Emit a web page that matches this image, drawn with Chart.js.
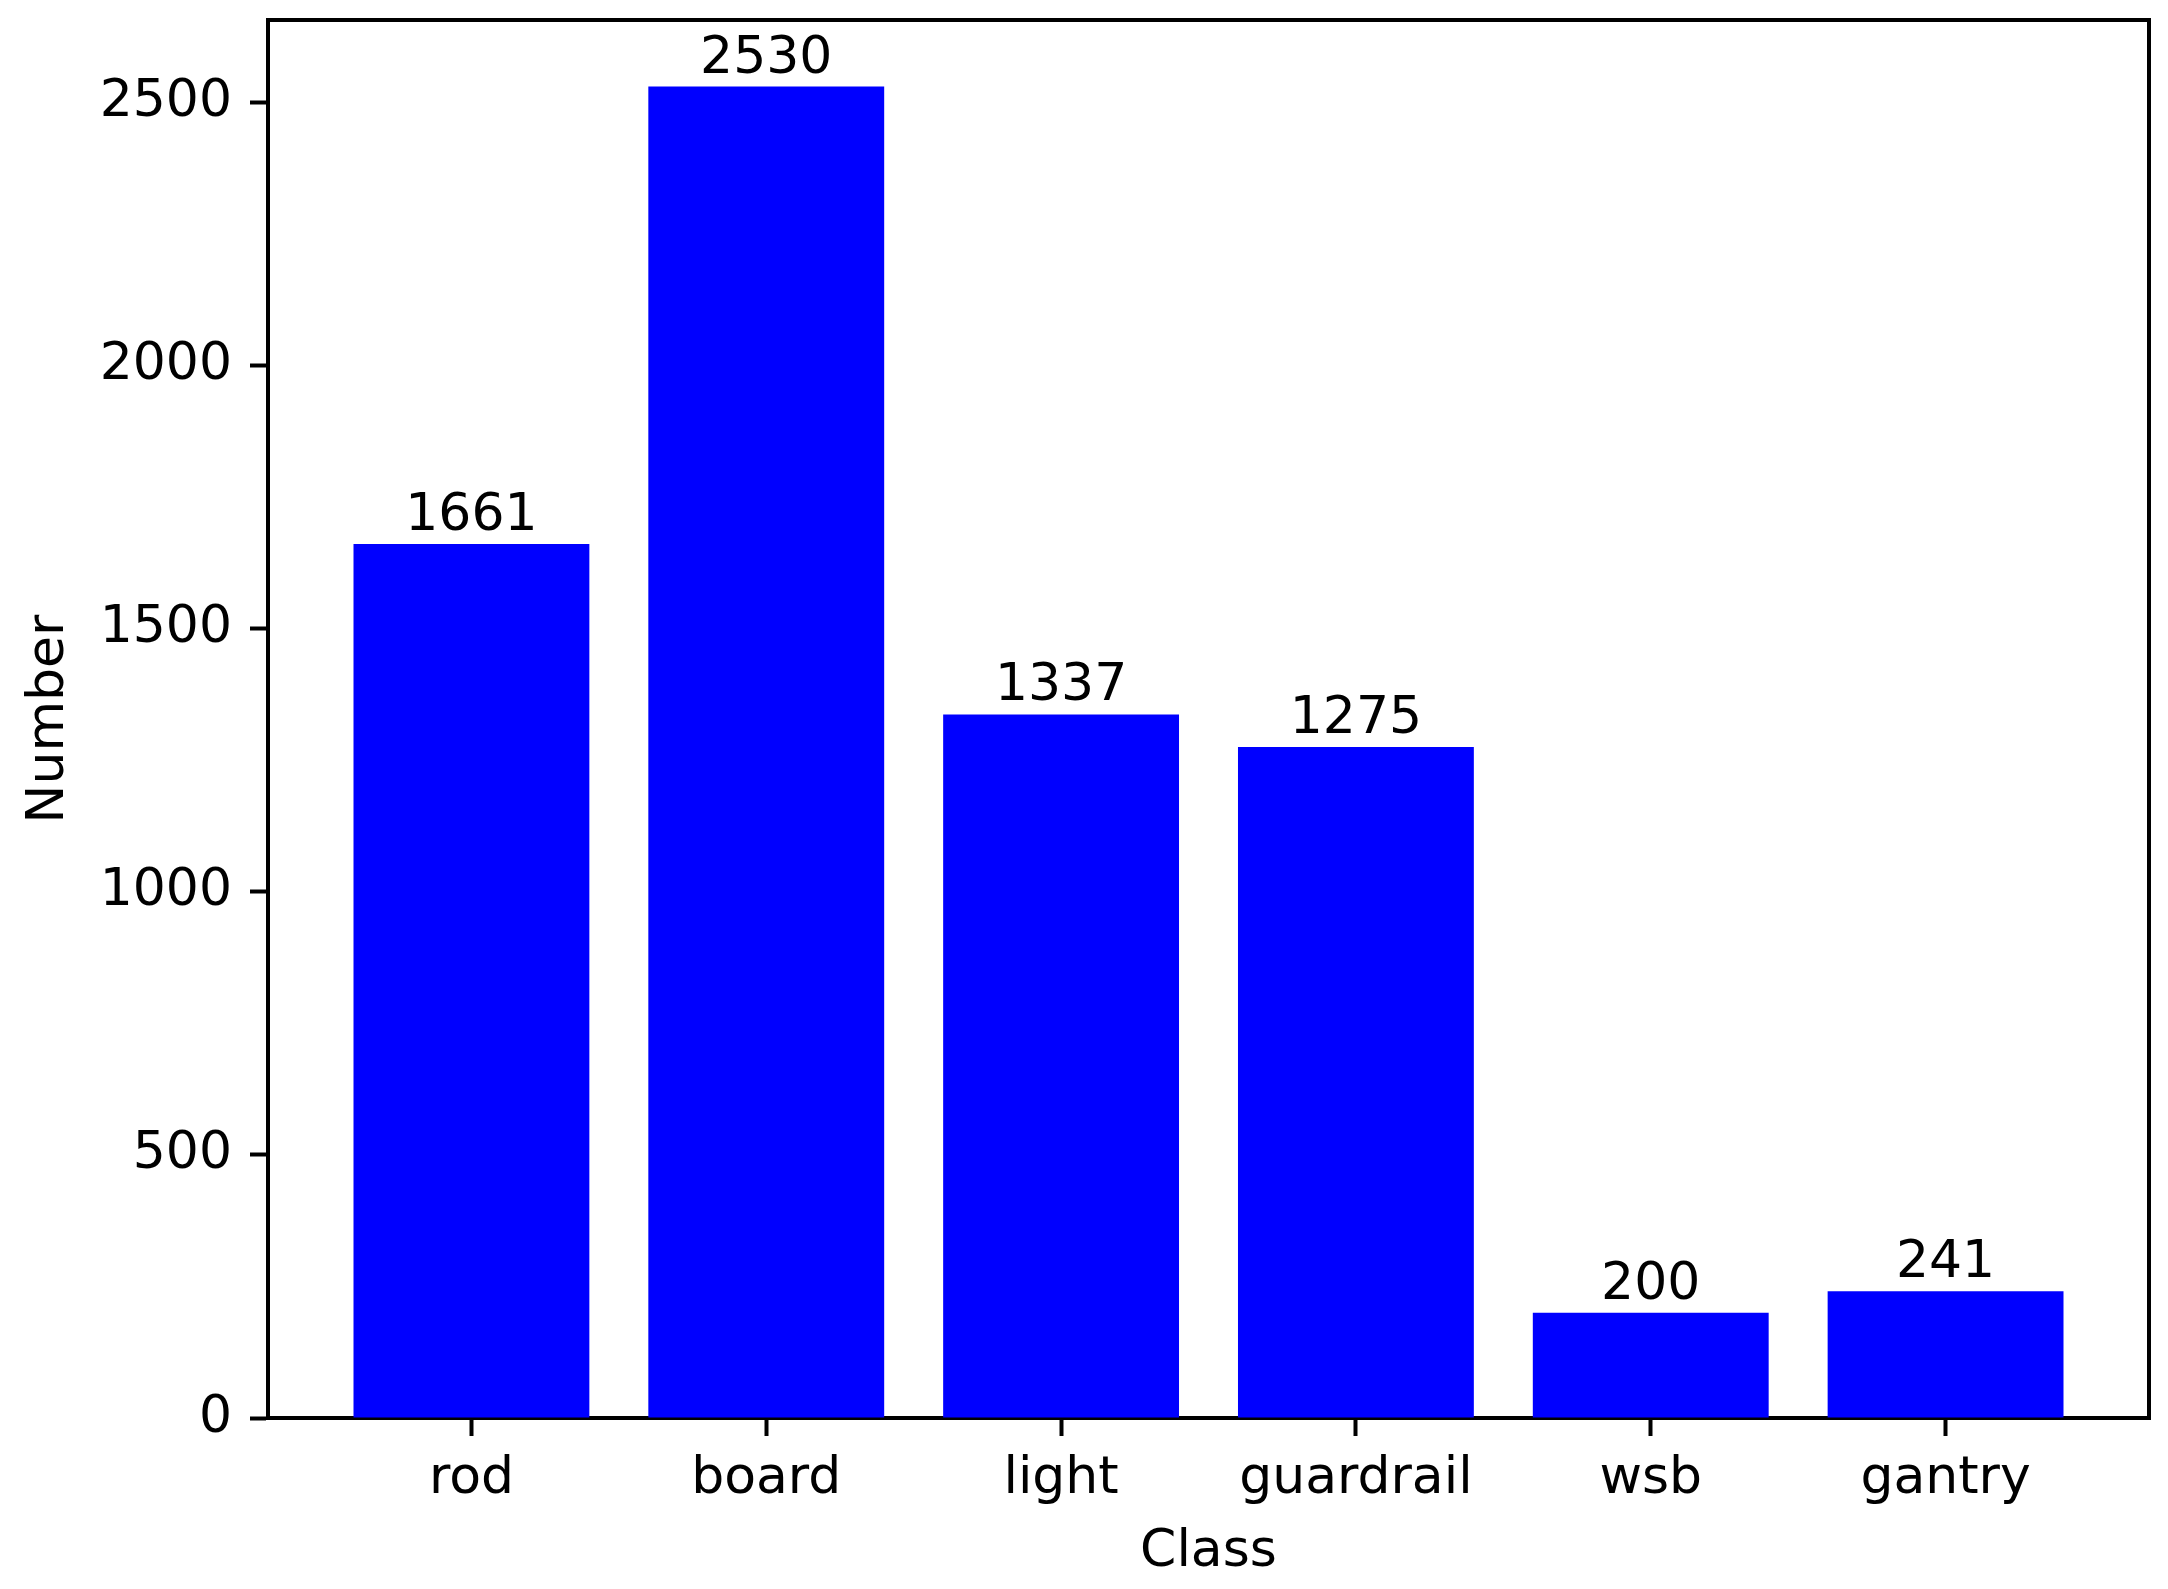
<!DOCTYPE html>
<html>
<head>
<meta charset="utf-8">
<script src="https://cdn.jsdelivr.net/npm/chart.js@4/dist/chart.umd.min.js"></script>
<style>
  html, body { margin: 0; padding: 0; background: #fff; }
  #wrap { width: 2168px; height: 1589px; }
</style>
</head>
<body>
<div id="wrap"><canvas id="c" width="2168" height="1589"></canvas></div>
<script>
const categories = ["rod", "board", "light", "guardrail", "wsb", "gantry"];
const counts = [1661, 2530, 1337, 1275, 200, 241];
const yTickValues = [0, 500, 1000, 1500, 2000, 2500];

const FONT = "'DejaVu Sans', sans-serif";
const FS = 52;

const valueLabels = {
  id: 'valueLabels',
  afterDatasetsDraw(chart) {
    const ctx = chart.ctx;
    const meta = chart.getDatasetMeta(0);
    ctx.save();
    ctx.font = FS + "px " + FONT;
    ctx.fillStyle = "#000";
    ctx.textAlign = "center";
    ctx.textBaseline = "alphabetic";
    meta.data.forEach((el, i) => {
      ctx.fillText(String(counts[i]), el.x, el.y - 14);
    });
    ctx.restore();
  },
  afterDraw(chart) {
    const a = chart.chartArea;
    const ctx = chart.ctx;
    ctx.save();
    ctx.strokeStyle = "#000";
    ctx.lineWidth = 4;
    ctx.beginPath();
    ctx.moveTo(a.left - 2, a.top);
    ctx.lineTo(a.right, a.top);
    ctx.lineTo(a.right, a.bottom + 2);
    ctx.stroke();
    ctx.restore();
  }
};

new Chart(document.getElementById('c'), {
  type: 'bar',
  data: {
    datasets: [{
      data: counts.map((v, i) => ({ x: i, y: v })),
      backgroundColor: '#0000ff',
      borderWidth: 0,
      categoryPercentage: 1.0,
      barPercentage: 0.8
    }]
  },
  options: {
    responsive: false,
    animation: false,
    devicePixelRatio: 1,
    layout: { padding: { top: 20, right: 19, left: 0, bottom: 0 } },
    plugins: { legend: { display: false }, tooltip: { enabled: false } },
    scales: {
      x: {
        type: 'linear',
        offset: false,
        min: -0.69,
        max: 5.69,
        grid: { display: true, drawOnChartArea: false, offset: false, tickLength: 18, tickWidth: 4, color: '#000' },
        border: { display: true, color: '#000', width: 4 },
        ticks: {
          font: { family: FONT, size: FS },
          color: '#000',
          padding: 12,
          maxRotation: 0,
          autoSkip: false,
          callback: (v) => categories[v]
        },
        afterBuildTicks: (s) => { s.ticks = categories.map((_, i) => ({ value: i })); },
        afterFit: (s) => { s.height = 171; s.paddingLeft = 0; s.paddingRight = 0; },
        title: { display: true, text: 'Class', font: { family: FONT, size: FS }, color: '#000', padding: { top: 0, bottom: 5 } }
      },
      y: {
        type: 'linear',
        min: 0,
        max: 2656.5,
        grid: { display: true, drawOnChartArea: false, tickLength: 18, tickWidth: 4, color: '#000' },
        border: { display: true, color: '#000', width: 4 },
        ticks: {
          font: { family: FONT, size: FS },
          color: '#000',
          padding: 18,
          callback: (v) => String(v)
        },
        afterBuildTicks: (s) => { s.ticks = yTickValues.map(v => ({ value: v })); },
        afterFit: (s) => { s.width = 268; s.paddingTop = 0; s.paddingBottom = 0; },
        title: { display: true, text: 'Number', font: { family: FONT, size: FS }, color: '#000', padding: { top: 18, bottom: 0 } }
      }
    }
  },
  plugins: [valueLabels]
});
</script>
</body>
</html>
